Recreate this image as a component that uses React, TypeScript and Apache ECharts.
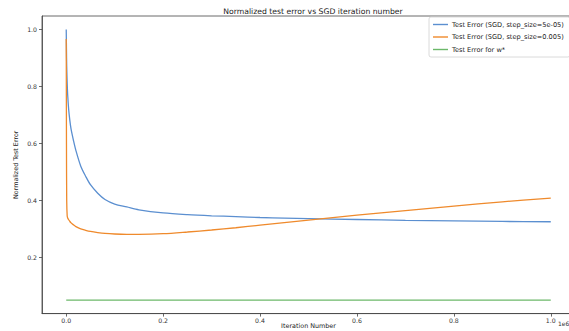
import React, { useEffect, useRef } from "react";
import * as echarts from "echarts";

// Iteration number in units of 1e6
const iterations = [0, 0.0005, 0.001, 0.002, 0.003, 0.005, 0.0075, 0.01, 0.015, 0.02, 0.03, 0.04, 0.05, 0.065, 0.08, 0.1, 0.125, 0.15, 0.2, 0.25, 0.3, 0.35, 0.4, 0.45, 0.5, 0.6, 0.7, 0.8, 0.9, 1.0];
const errSmallStep = [1.0, 0.93, 0.87, 0.81, 0.77, 0.72, 0.68, 0.65, 0.61, 0.575, 0.52, 0.485, 0.455, 0.425, 0.403, 0.387, 0.377, 0.367, 0.356, 0.35, 0.346, 0.343, 0.34, 0.338, 0.336, 0.333, 0.33, 0.328, 0.326, 0.325];
const errLargeStep = [0.967, 0.6, 0.4, 0.345, 0.338, 0.332, 0.326, 0.321, 0.314, 0.308, 0.3, 0.295, 0.291, 0.287, 0.284, 0.282, 0.281, 0.281, 0.283, 0.289, 0.296, 0.304, 0.313, 0.322, 0.331, 0.348, 0.364, 0.38, 0.395, 0.408];
const optimalX = [0, 1.0];
const optimalErr = [0.05, 0.05];
const xTicks = [0, 0.2, 0.4, 0.6, 0.8, 1.0];
const yTicks = [0.2, 0.4, 0.6, 0.8, 1.0];
const seriesNames = [
  "Test Error (SGD, step_size=5e-05)",
  "Test Error (SGD, step_size=0.005)",
  "Test Error for w*",
];

const FONT = "DejaVu Sans";

export default function App() {
  const ref = useRef<HTMLDivElement>(null);
  useEffect(() => {
    document.body.style.margin = "0";
    document.body.style.overflow = "hidden";
    const chart = echarts.init(ref.current!, null, { renderer: "svg" });
    const pairs = (xs: number[], ys: number[]) => xs.map((x, i) => [x, ys[i]]);
    chart.setOption({
      animation: false,
      backgroundColor: "#ffffff",
      textStyle: { fontFamily: FONT },
      title: {
        text: "Normalized test error vs SGD iteration number",
        left: 308,
        textAlign: "center",
        top: 2,
        textStyle: { fontFamily: FONT, fontSize: 7.7, fontWeight: "normal", color: "#222" },
      },
      grid: {
        left: 42,
        right: -6,
        top: 16,
        bottom: 17.4,
        containLabel: false,
        outerBoundsMode: "none",
        show: true,
        borderColor: "#444",
        borderWidth: 0.8,
        backgroundColor: "transparent",
      },
      legend: {
        orient: "vertical",
        left: 429,
        top: 17,
        icon: "rect",
        itemWidth: 15,
        itemHeight: 1.4,
        itemGap: 5.5,
        padding: [4, 6, 4, 4],
        backgroundColor: "rgba(255,255,255,0.8)",
        borderColor: "#d0d0d0",
        borderWidth: 0.8,
        borderRadius: 2,
        textStyle: { fontFamily: FONT, fontSize: 6.6, color: "#222", padding: [0, 0, 0, -1] },
        data: seriesNames,
      },
      xAxis: {
        type: "value",
        min: -0.05,
        max: 1.05,
        name: "Iteration Number",
        nameLocation: "middle",
        nameGap: 9.5,
        nameMoveOverlap: false,
        nameTextStyle: { fontFamily: FONT, fontSize: 6.4, color: "#222" },
        axisLine: { show: true, onZero: false, lineStyle: { color: "#444", width: 0.8 } },
        axisTick: { show: true, customValues: xTicks, length: 3, lineStyle: { color: "#444", width: 0.8 } },
        axisLabel: {
          customValues: xTicks,
          formatter: (v: number) => v.toFixed(1),
          fontFamily: FONT,
          fontSize: 6.2,
          color: "#333",
          margin: 4,
        },
        splitLine: { show: false },
      },
      yAxis: {
        type: "value",
        min: 0.0025,
        max: 1.0475,
        name: "Normalized Test Error",
        nameLocation: "middle",
        nameGap: 23,
        nameMoveOverlap: false,
        nameTextStyle: { fontFamily: FONT, fontSize: 6.4, color: "#222" },
        axisLine: { show: true, onZero: false, lineStyle: { color: "#444", width: 0.8 } },
        axisTick: { show: true, customValues: yTicks, length: 3, lineStyle: { color: "#444", width: 0.8 } },
        axisLabel: {
          customValues: yTicks,
          formatter: (v: number) => v.toFixed(1),
          fontFamily: FONT,
          fontSize: 6.2,
          color: "#333",
          margin: 5,
        },
        splitLine: { show: false },
      },
      graphic: [
        {
          type: "text",
          left: 558,
          top: 320,
          style: { text: "1e6", fontFamily: FONT, fontSize: 6, fill: "#333" },
        },
      ],
      series: [
        {
          name: seriesNames[0],
          type: "line",
          data: pairs(iterations, errSmallStep),
          showSymbol: false,
          smooth: 0.3,
          lineStyle: { color: "#5b8fd0", width: 1.3 },
          itemStyle: { color: "#5b8fd0" },
          z: 3,
        },
        {
          name: seriesNames[1],
          type: "line",
          data: pairs(iterations, errLargeStep),
          showSymbol: false,
          smooth: 0.3,
          lineStyle: { color: "#ef8a2c", width: 1.3 },
          itemStyle: { color: "#ef8a2c" },
          z: 4,
        },
        {
          name: seriesNames[2],
          type: "line",
          data: pairs(optimalX, optimalErr),
          showSymbol: false,
          lineStyle: { color: "#6cb86a", width: 1.3 },
          itemStyle: { color: "#6cb86a" },
          z: 5,
        },
      ],
    });
    return () => chart.dispose();
  }, []);
  return <div ref={ref} style={{ width: 569, height: 331 }} />;
}
